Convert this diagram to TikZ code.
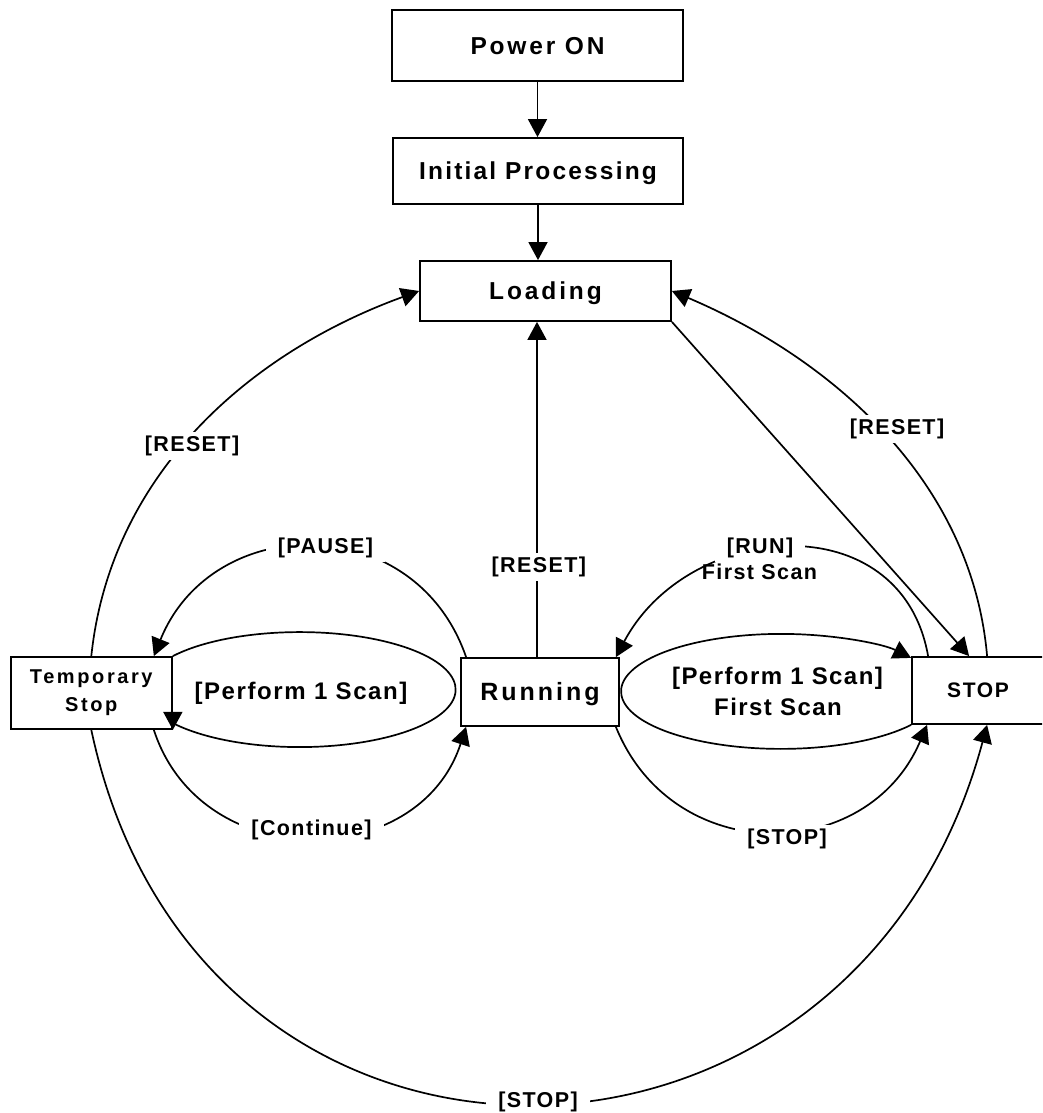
\documentclass[tikz,border=0pt]{standalone}
\usepackage{fontspec}
\setmainfont{Liberation Sans}
\usetikzlibrary{arrows.meta}
\newcommand{\ff}[2]{\bfseries\fontsize{#1}{#1}\selectfont\addfontfeature{LetterSpace=#2}}
\begin{document}
\begin{tikzpicture}[x=1pt,y=1pt,
  bx/.style={draw, line width=1.8pt, inner sep=0pt, text depth=0pt},
  arr/.style={line width=1.7pt, -{Triangle[length=18pt,width=19pt]}},
  lbl/.style={fill=white, inner xsep=12pt, inner ysep=4pt, anchor=base, font=\ff{21.5}{6.5}},
  txt/.style={anchor=base, inner sep=0pt}]
\useasboundingbox (0,0) rectangle (1042,1113);
\clip (0,0) rectangle (1042,1113);

% boxes
\node[bx, minimum width=291pt, minimum height=71pt, text height=17.4pt, font=\ff{24.5}{11.5}] (pw) at (537.5,1067.5) {Power ON};
\node[bx, minimum width=290pt, minimum height=66pt, text height=17.5pt, font=\ff{24.5}{8.9}] (ip) at (538,942) {Initial Processing};
\node[bx, minimum width=251pt, minimum height=60pt, text height=17.6pt, font=\ff{24.5}{11.8}] (ld) at (545.5,822) {Loading};
\node[draw, line width=1.8pt, inner sep=0pt, minimum width=161.3pt, minimum height=72pt, align=center, font={\bfseries\fontsize{20}{28}\selectfont\addfontfeature{LetterSpace=13}}] (ts) at (91.3,420) {Temporary\\Stop};
\node[bx, minimum width=158pt, minimum height=68pt, text height=18pt, font=\ff{25}{12}] (rn) at (540,421) {Running};
\node[bx, minimum width=132pt, minimum height=67pt, text height=15pt, font=\ff{21}{8}] (st) at (978,422.5) {STOP};

% straight connectors
\draw[arr] (pw.south) -- (pw.south |- ip.north);
\draw[arr] (ip.south) -- (ip.south |- ld.north);
\coordinate (rnTop) at ([xshift=-3pt]rn.north);
\draw[arr] (rnTop) -- (rnTop |- ld.south);
\draw[arr] (ld.south east) -- ([xshift=58pt]st.north west);

% curved connectors
\draw[arr] (ts.north) to[out=84,in=200,looseness=0.95] (ld.west);
\draw[arr] ([xshift=76pt]st.north west) to[out=95,in=-23,looseness=0.93] (ld.east);
\draw[arr] ([xshift=6pt]rn.north west) to[out=109,in=68,looseness=1.28] ([xshift=-19pt]ts.north east);
\draw[arr] ([xshift=-19pt]ts.south east) to[out=-72,in=252,looseness=1.25] ([xshift=6pt]rn.south west);
\draw[arr] ([xshift=17pt]st.north west) to[out=100,in=62,looseness=1.27] ([xshift=-4pt]rn.north east);
\draw[arr] ([xshift=-4pt]rn.south east) to[out=-68,in=247,looseness=1.25] ([xshift=16pt]st.south west);
\draw[arr] (ts.south) to[out=-78,in=255,looseness=1.47] ([xshift=76pt]st.south west);

% self loops (ellipses)
\draw[arr] (ts.north east) arc[start angle=144.37, end angle=-144.37, x radius=156, y radius=57.5] -- (ts.south east);
\draw[arr] (st.south west) arc[start angle=-35.63, end angle=-324.37, x radius=160, y radius=57.5];

% labels
\node[lbl] (lRsL) at (192,661) {[RESET]};
\node[lbl] (lPause) at (325.5,559) {[PAUSE]};
\node[lbl] (lRsC) at (538.8,540) {[RESET]};
\node[lbl] (lRsR) at (897,678) {[RESET]};
\node[lbl] (lRun) at (760,559) {[RUN]};
\node[txt, font=\ff{21.5}{6.5}] (lFs) at (759.5,533) {First Scan};
\node[lbl] (lCont) at (311.5,277) {[Continue]};
\node[lbl] (lStopS) at (787,268) {[STOP]};
\node[lbl] (lStopB) at (538,5.5) {[STOP]};
\node[txt, font=\ff{24}{6.7}] (pL) at (301,413) {[Perform 1 Scan]};
\node[txt, font=\ff{24}{6}] (pR) at (777.5,428) {[Perform 1 Scan]};
\node[txt, font=\ff{24}{6}] (pR2) at (778,397) {First Scan};
\end{tikzpicture}
\end{document}
